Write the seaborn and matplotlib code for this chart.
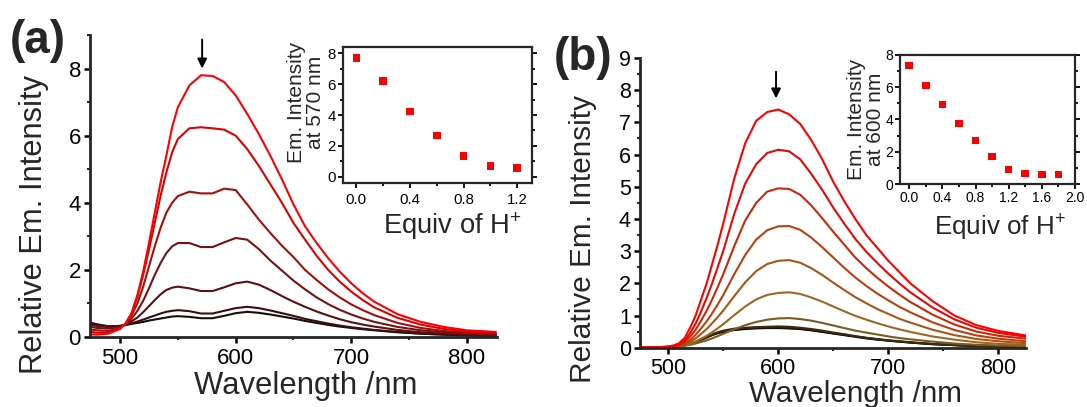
import matplotlib
matplotlib.use("Agg")
import matplotlib.pyplot as plt
from matplotlib import font_manager
from matplotlib.ticker import MultipleLocator
import numpy as np
import pandas as pd
import seaborn as sns

# ---------------------------------------------------------------- data
wavelength = [475, 480, 490, 500, 505, 510, 515, 520, 525, 530, 535, 540, 545, 550,
              560, 570, 580, 590, 600, 610, 620, 630, 640, 650, 660, 670, 680, 690,
              700, 710, 720, 740, 760, 780, 800, 825]

# (a) emission spectra, 0.0 -> 1.2 equiv of H+
a_eq00 = [0.08, 0.07, 0.10, 0.24, 0.42, 0.72, 1.25, 1.95, 2.8, 3.7, 4.6, 5.4, 6.25, 6.85,
          7.5, 7.8, 7.78, 7.6, 7.2, 6.65, 6.05, 5.4, 4.7, 3.95, 3.3, 2.8, 2.35, 1.95,
          1.6, 1.3, 1.05, 0.68, 0.45, 0.3, 0.2, 0.15]
a_eq02 = [0.15, 0.13, 0.13, 0.25, 0.40, 0.70, 1.2, 1.85, 2.6, 3.4, 4.2, 4.9, 5.5, 5.9,
          6.22, 6.25, 6.22, 6.18, 6.0, 5.6, 5.1, 4.55, 4.0, 3.4, 2.9, 2.42, 2.0, 1.65,
          1.35, 1.1, 0.88, 0.57, 0.37, 0.24, 0.17, 0.12]
a_eq04 = [0.22, 0.20, 0.18, 0.27, 0.40, 0.65, 1.0, 1.5, 2.1, 2.7, 3.25, 3.7, 4.0, 4.2,
          4.33, 4.28, 4.28, 4.42, 4.38, 3.95, 3.5, 3.1, 2.72, 2.38, 2.0, 1.7, 1.42, 1.18,
          0.97, 0.8, 0.65, 0.42, 0.27, 0.18, 0.13, 0.10]
a_eq06 = [0.30, 0.27, 0.25, 0.30, 0.38, 0.55, 0.78, 1.08, 1.45, 1.85, 2.2, 2.5, 2.7, 2.8,
          2.8, 2.68, 2.68, 2.82, 2.95, 2.9, 2.62, 2.28, 1.98, 1.68, 1.42, 1.18, 0.98, 0.81,
          0.67, 0.55, 0.45, 0.30, 0.20, 0.14, 0.10, 0.07]
a_eq08 = [0.36, 0.33, 0.29, 0.32, 0.37, 0.47, 0.58, 0.74, 0.92, 1.1, 1.27, 1.4, 1.47, 1.5,
          1.45, 1.37, 1.37, 1.48, 1.6, 1.65, 1.56, 1.4, 1.22, 1.05, 0.9, 0.76, 0.64, 0.53,
          0.44, 0.37, 0.31, 0.21, 0.14, 0.10, 0.07, 0.05]
a_eq10 = [0.40, 0.36, 0.31, 0.33, 0.36, 0.41, 0.46, 0.52, 0.58, 0.64, 0.7, 0.75, 0.78, 0.8,
          0.77, 0.7, 0.7, 0.78, 0.86, 0.9, 0.86, 0.79, 0.71, 0.63, 0.54, 0.47, 0.4, 0.34,
          0.29, 0.25, 0.21, 0.15, 0.10, 0.07, 0.05, 0.04]
a_eq12 = [0.42, 0.38, 0.32, 0.33, 0.36, 0.39, 0.42, 0.45, 0.49, 0.52, 0.55, 0.58, 0.61, 0.62,
          0.6, 0.56, 0.56, 0.63, 0.71, 0.75, 0.72, 0.67, 0.61, 0.55, 0.48, 0.42, 0.36, 0.31,
          0.27, 0.23, 0.2, 0.14, 0.10, 0.07, 0.05, 0.04]

# (b) emission spectra, 0.0 -> 1.8 equiv of H+
b_eq00 = [0.0, 0.0, 0.01, 0.04, 0.07, 0.14, 0.3, 0.62, 1.0, 1.5, 2.0, 2.6, 3.2, 3.85,
          5.25, 6.35, 7.05, 7.32, 7.4, 7.25, 6.95, 6.45, 5.85, 5.15, 4.55, 4.0, 3.5, 3.1,
          2.7, 2.35, 2.0, 1.45, 1.0, 0.7, 0.52, 0.38]
b_eq02 = [0.0, 0.0, 0.01, 0.03, 0.05, 0.1, 0.22, 0.45, 0.75, 1.13, 1.55, 2.0, 2.5, 3.0,
          4.15, 5.1, 5.7, 6.05, 6.15, 6.1, 5.85, 5.4, 4.9, 4.35, 3.85, 3.38, 2.98, 2.63,
          2.3, 2.0, 1.72, 1.25, 0.88, 0.62, 0.46, 0.34]
b_eq04 = [0.0, 0.0, 0.01, 0.025, 0.04, 0.08, 0.17, 0.34, 0.56, 0.84, 1.15, 1.5, 1.88, 2.28,
          3.15, 3.95, 4.5, 4.85, 4.95, 4.93, 4.75, 4.42, 4.02, 3.6, 3.2, 2.8, 2.47, 2.17,
          1.9, 1.65, 1.42, 1.03, 0.72, 0.5, 0.37, 0.28]
b_eq06 = [0.0, 0.0, 0.01, 0.02, 0.03, 0.06, 0.12, 0.24, 0.4, 0.6, 0.82, 1.07, 1.34, 1.63,
          2.28, 2.88, 3.36, 3.65, 3.77, 3.78, 3.66, 3.42, 3.12, 2.8, 2.48, 2.18, 1.92, 1.68,
          1.47, 1.27, 1.1, 0.79, 0.55, 0.38, 0.28, 0.2]
b_eq08 = [0.0, 0.0, 0.01, 0.02, 0.03, 0.05, 0.1, 0.18, 0.29, 0.43, 0.58, 0.76, 0.95, 1.15,
          1.6, 2.03, 2.38, 2.6, 2.7, 2.72, 2.64, 2.47, 2.26, 2.02, 1.79, 1.57, 1.38, 1.2,
          1.05, 0.9, 0.78, 0.56, 0.39, 0.27, 0.2, 0.14]
b_eq10 = [0.0, 0.0, 0.01, 0.02, 0.03, 0.04, 0.07, 0.12, 0.19, 0.28, 0.37, 0.48, 0.6, 0.73,
          1.01, 1.28, 1.5, 1.64, 1.7, 1.72, 1.67, 1.56, 1.43, 1.28, 1.13, 0.99, 0.87, 0.76,
          0.66, 0.57, 0.49, 0.35, 0.25, 0.17, 0.12, 0.09]
b_eq12 = [0.0, 0.0, 0.01, 0.02, 0.03, 0.04, 0.06, 0.09, 0.13, 0.18, 0.23, 0.29, 0.36, 0.43,
          0.57, 0.7, 0.8, 0.87, 0.91, 0.92, 0.89, 0.84, 0.77, 0.69, 0.61, 0.53, 0.47, 0.41,
          0.35, 0.3, 0.26, 0.19, 0.13, 0.09, 0.07, 0.05]
b_eq14 = [0.0, 0.0, 0.01, 0.02, 0.03, 0.05, 0.08, 0.12, 0.18, 0.25, 0.33, 0.41, 0.48, 0.53,
          0.59, 0.62, 0.64, 0.65, 0.66, 0.65, 0.62, 0.58, 0.53, 0.47, 0.42, 0.36, 0.31, 0.27,
          0.23, 0.2, 0.17, 0.12, 0.08, 0.06, 0.04, 0.03]
b_eq16 = [0.0, 0.0, 0.01, 0.02, 0.03, 0.05, 0.08, 0.12, 0.18, 0.25, 0.32, 0.4, 0.46, 0.51,
          0.57, 0.6, 0.62, 0.62, 0.62, 0.61, 0.59, 0.55, 0.5, 0.45, 0.4, 0.35, 0.3, 0.26,
          0.22, 0.19, 0.16, 0.11, 0.08, 0.05, 0.04, 0.03]
b_eq18 = [0.0, 0.0, 0.01, 0.02, 0.03, 0.05, 0.08, 0.12, 0.18, 0.25, 0.32, 0.39, 0.45, 0.49,
          0.55, 0.58, 0.6, 0.61, 0.61, 0.6, 0.58, 0.54, 0.49, 0.44, 0.39, 0.34, 0.29, 0.25,
          0.22, 0.19, 0.16, 0.11, 0.08, 0.05, 0.04, 0.03]

# titration insets
equiv_a = [0.0, 0.2, 0.4, 0.6, 0.8, 1.0, 1.2]
int_570 = [7.7, 6.22, 4.23, 2.68, 1.35, 0.71, 0.57]
equiv_b = [0.0, 0.2, 0.4, 0.6, 0.8, 1.0, 1.2, 1.4, 1.6, 1.8]
int_600 = [7.35, 6.12, 4.93, 3.75, 2.7, 1.71, 0.89, 0.65, 0.6, 0.6]

labels_a = ["0.0", "0.2", "0.4", "0.6", "0.8", "1.0", "1.2"]
labels_b = ["0.0", "0.2", "0.4", "0.6", "0.8", "1.0", "1.2", "1.4", "1.6", "1.8"]
colors_a = ["#ff0000", "#dc0000", "#a0100e", "#781212", "#5a1010", "#3c0d0d", "#141010"]
colors_b = ["#ff0000", "#e20a04", "#cc2808", "#ba4010", "#aa5416", "#9c6820",
            "#7c5a22", "#3c2a12", "#1e1408", "#000000"]

# ---------------------------------------------------------------- style
sns.set_style("ticks")
plt.rcParams["font.family"] = ["Liberation Sans", "DejaVu Sans"]
plt.rcParams["mathtext.default"] = "regular"


def has_font(name):
    try:
        font_manager.findfont(font_manager.FontProperties(family=name),
                              fallback_to_default=False)
        return True
    except Exception:
        return False


NARROW = has_font("Liberation Sans Narrow")
rot_family = ["Liberation Sans Narrow", "Liberation Sans"] if NARROW else ["Liberation Sans"]
rot_scale = 1.0 if NARROW else 0.84


def long_frame(curves, labels):
    parts = [pd.DataFrame({"wavelength": wavelength, "intensity": vals, "equiv": lab})
             for lab, vals in zip(labels, curves)]
    return pd.concat(parts, ignore_index=True)


df_a = long_frame([a_eq00, a_eq02, a_eq04, a_eq06, a_eq08, a_eq10, a_eq12], labels_a)
df_b = long_frame([b_eq00, b_eq02, b_eq04, b_eq06, b_eq08, b_eq10, b_eq12, b_eq14,
                   b_eq16, b_eq18], labels_b)

fig = plt.figure(figsize=(10.87, 4.07), dpi=100)
ax_a = fig.add_axes([0.0828, 0.172, 0.3744, 0.742])
ins_a = fig.add_axes([0.3155, 0.5504, 0.1739, 0.334])
ax_b = fig.add_axes([0.5888, 0.1457, 0.3551, 0.7118])
ins_b = fig.add_axes([0.828, 0.5479, 0.161, 0.317])


def spectra(ax, df, labels, colors, xlim, ymajor, yminor, tick_fs, xpad):
    pal = dict(zip(labels, colors))
    sns.lineplot(data=df, x="wavelength", y="intensity", hue="equiv",
                 hue_order=labels[::-1], palette=pal, linewidth=1.5,
                 estimator=None, sort=False, legend=False, ax=ax)
    ax.set_xlim(*xlim)
    ax.set_ylim(0, 9)
    ax.xaxis.set_major_locator(MultipleLocator(100))
    ax.xaxis.set_minor_locator(MultipleLocator(50))
    ax.yaxis.set_major_locator(MultipleLocator(ymajor))
    ax.yaxis.set_minor_locator(MultipleLocator(yminor))
    for side in ("top", "right"):
        ax.spines[side].set_visible(False)
    for side in ("left", "bottom"):
        ax.spines[side].set_linewidth(2.0)
    ax.tick_params(which="major", direction="out", length=4, width=1.8,
                   labelsize=tick_fs, colors="black")
    ax.tick_params(which="minor", direction="out", length=2.5, width=1.5)
    ax.tick_params(axis="x", which="major", pad=xpad)
    ax.tick_params(axis="y", which="major", pad=2.5)


spectra(ax_a, df_a, labels_a, colors_a, (474, 826), 2, 1, 16, 4)
spectra(ax_b, df_b, labels_b, colors_b, (474.5, 825), 1, 0.5, 15.5, 3.5)

ax_a.set_xlabel("Wavelength /nm", fontsize=22.3)
ax_a.xaxis.set_label_coords(0.53, -0.112)
ax_a.set_ylabel("Relative Em. Intensity", fontsize=26.5 * rot_scale, family=rot_family)
ax_a.yaxis.set_label_coords(-0.1, 0.374)

ax_b.set_xlabel("Wavelength /nm", fontsize=21.3)
ax_b.xaxis.set_label_coords(0.557, -0.112)
ax_b.set_ylabel("Relative Em. Intensity", fontsize=25.5 * rot_scale, family=rot_family)
ax_b.yaxis.set_label_coords(-0.111, 0.375)

ax_a.annotate("", xy=(571, 7.92), xytext=(571, 8.95),
              arrowprops=dict(arrowstyle="-|>", color="black", lw=1.4, mutation_scale=14))
ax_b.annotate("", xy=(598, 7.66), xytext=(598, 8.66),
              arrowprops=dict(arrowstyle="-|>", color="black", lw=1.4, mutation_scale=14))

fig.text(37.5 / 1087, 1 - 41 / 407, "(a)", fontsize=33, fontweight="bold",
         ha="center", va="center")
fig.text(583 / 1087, 1 - 58 / 407, "(b)", fontsize=33, fontweight="bold",
         ha="center", va="center")


def inset(ax, x, y, xlim, ylim, label, fs, ylab_xy, xlab_xy, xfs, ypad, xpad):
    sns.scatterplot(x=x, y=y, marker="s", color="#ff0000", s=30, edgecolor="none",
                    ax=ax, legend=False)
    ax.set_xlim(*xlim)
    ax.set_ylim(*ylim)
    ax.xaxis.set_major_locator(MultipleLocator(0.4))
    ax.xaxis.set_minor_locator(MultipleLocator(0.2))
    ax.yaxis.set_major_locator(MultipleLocator(2))
    ax.yaxis.set_minor_locator(MultipleLocator(1))
    for sp in ax.spines.values():
        sp.set_linewidth(1.6)
    ax.tick_params(which="both", direction="out", right=True, labelright=False,
                   colors="black", width=1.3)
    ax.tick_params(which="major", length=3.5, labelsize=fs)
    ax.tick_params(which="minor", length=2)
    ax.tick_params(axis="y", which="major", pad=ypad)
    ax.tick_params(axis="x", which="major", pad=xpad)
    ax.set_ylabel(label, fontsize=16.5 * rot_scale + (0 if NARROW else 1.2),
                  family=rot_family, linespacing=1.0)
    ax.yaxis.set_label_coords(*ylab_xy)
    ax.set_xlabel("Equiv of H$^{+}$", fontsize=xfs)
    ax.xaxis.set_label_coords(*xlab_xy)


inset(ins_a, equiv_a, int_570, (-0.1, 1.31), (-0.4, 8.4),
      "Em. Intensity\nat 570 nm", 10.8, (-0.095, 0.59), (0.577, -0.2), 19.7, 1.5, 3.5)
inset(ins_b, equiv_b, int_600, (-0.11, 2.0), (0, 8),
      "Em. Intensity\nat 600 nm", 10.0, (-0.086, 0.5), (0.571, -0.22), 18.7, 1.5, 1.5)

fig.savefig("out.png", dpi=100)
